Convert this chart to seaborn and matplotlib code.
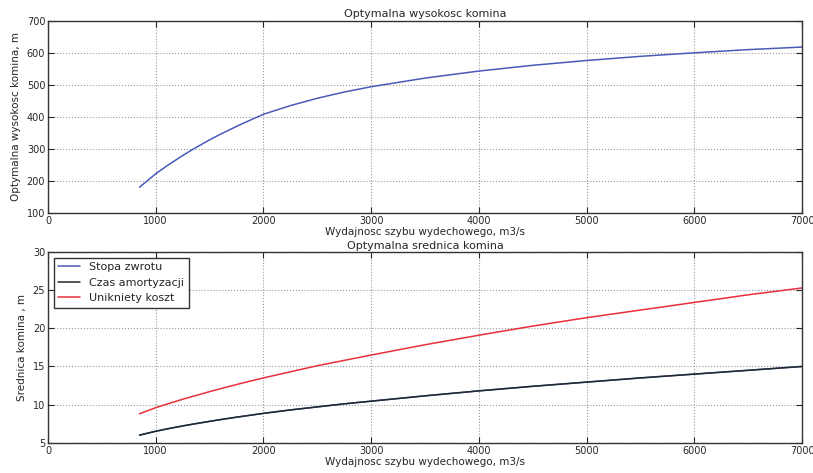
import pandas as pd
import matplotlib
matplotlib.use("Agg")
import matplotlib.pyplot as plt
import seaborn as sns

# Wydajnosc szybu wydechowego, m3/s
wydajnosc = [850, 1000, 1100, 1250, 1350, 1500, 1600, 1750, 1800, 2000, 2250, 2500, 2750, 3000,
             3500, 4000, 4500, 5000, 5500, 6000, 6500, 7000]

# Optymalna wysokosc komina, m
wysokosc = [180, 222, 246, 279, 299.5, 328, 345.5, 370, 378, 408, 435, 458, 477.5, 494,
            521, 543, 561, 576, 589, 600, 610, 618]

# Optymalna srednica komina, m
stopa_zwrotu = [6.0, 6.5, 6.8, 7.2, 7.45, 7.8, 8.03, 8.35, 8.45, 8.85, 9.3, 9.7, 10.1, 10.45,
                11.15, 11.8, 12.4, 12.95, 13.5, 14.0, 14.5, 15.0]
czas_amortyzacji = [6.0, 6.5, 6.8, 7.2, 7.45, 7.8, 8.03, 8.35, 8.45, 8.85, 9.3, 9.7, 10.1, 10.45,
                    11.15, 11.8, 12.4, 12.95, 13.5, 14.0, 14.5, 15.0]
unikniety_koszt = [8.8, 9.6, 10.05, 10.7, 11.1, 11.7, 12.08, 12.63, 12.81, 13.5, 14.3, 15.1, 15.8, 16.5,
                   17.85, 19.1, 20.3, 21.4, 22.4, 23.4, 24.4, 25.3]

sns.set_style("ticks", {
    "axes.grid": True,
    "grid.linestyle": ":",
    "grid.color": "#999999",
    "axes.edgecolor": "#333333",
    "xtick.direction": "in",
    "ytick.direction": "in",
    "xtick.top": True,
    "ytick.right": True,
})
plt.rcParams["font.family"] = ["DejaVu Sans"]
plt.rcParams["font.size"] = 7.5
plt.rcParams["grid.linewidth"] = 0.8

fig = plt.figure(figsize=(8.13, 4.73), dpi=100)
ax1 = fig.add_axes([0.059, 0.55, 0.9275, 0.406])
ax2 = fig.add_axes([0.059, 0.064, 0.9275, 0.403])

df_top = pd.DataFrame({"x": wydajnosc, "y": wysokosc})
sns.lineplot(x="x", y="y", data=df_top, ax=ax1, color="#4a5ab8", linewidth=1.1)
ax1.set_xlim(0, 7000)
ax1.set_ylim(100, 700)
ax1.set_title("Optymalna wysokosc komina", fontsize=8, pad=3)
ax1.set_xlabel("Wydajnosc szybu wydechowego, m3/s", fontsize=7.5, labelpad=1)
ax1.set_ylabel("Optymalna wysokosc komina, m", fontsize=7.5)

df_bot = pd.DataFrame({
    "x": wydajnosc * 3,
    "y": stopa_zwrotu + czas_amortyzacji + unikniety_koszt,
    "seria": ["Stopa zwrotu"] * len(wydajnosc) + ["Czas amortyzacji"] * len(wydajnosc)
             + ["Unikniety koszt"] * len(wydajnosc),
})
paleta = {"Stopa zwrotu": "#4a5ab8", "Czas amortyzacji": "#1f2a2a", "Unikniety koszt": "#e8303a"}
sns.lineplot(x="x", y="y", hue="seria", data=df_bot, ax=ax2, palette=paleta, linewidth=1.1)
ax2.set_xlim(0, 7000)
ax2.set_ylim(5, 30)
ax2.set_title("Optymalna srednica komina", fontsize=8, pad=2)
ax2.set_xlabel("Wydajnosc szybu wydechowego, m3/s", fontsize=7.5, labelpad=1)
ax2.set_ylabel("Srednica komina , m", fontsize=7.5)
leg = ax2.legend(loc="upper left", fontsize=8, fancybox=False, framealpha=1, edgecolor="#333333")
leg.get_frame().set_linewidth(1.0)

for ax in (ax1, ax2):
    ax.tick_params(labelsize=7, pad=2, length=4)
    for s in ax.spines.values():
        s.set_linewidth(1.0)

plt.savefig("out.png", dpi=100)
plt.close()
